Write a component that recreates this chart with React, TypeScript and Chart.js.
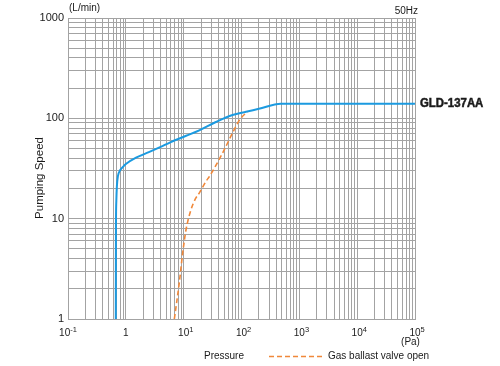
import React, { useEffect, useRef } from 'react';
import { Chart, registerables } from 'chart.js';

Chart.register(...registerables);

// ---- data ----
const blueX = [0.67, 0.675, 0.685, 0.7, 0.73, 0.8, 0.9, 1.0, 1.5, 2.5, 4, 6, 11, 18.6, 36, 70, 120, 200, 480, 100000];
const blueY = [1, 8, 15, 21, 26.5, 30.5, 33, 35, 40.5, 46, 52, 58, 67, 76, 92, 108, 116.2, 124.4, 140, 140];
const orangeX = [6.9, 8.4, 9.6, 11, 13.4, 16, 18.6, 24.3, 28, 47, 70, 92, 128];
const orangeY = [1, 2.3, 4.5, 7.8, 12.3, 15.8, 18, 23.5, 26.5, 45, 71.5, 96, 117.4];

const xTickValues = [0.1, 1, 10, 100, 1000, 10000, 100000];
const xTickBase = ['10', '1', '10', '10', '10', '10', '10'];
const xTickExp = ['-1', '', '1', '2', '3', '4', '5'];
const yTickValues = [1, 10, 100, 1000];
const yTickLabels = ['1', '10', '100', '1000'];

const seriesName = 'GLD-137AA';
const legendLabel = 'Gas ballast valve open';
const yUnit = '(L/min)';
const xUnit = '(Pa)';
const freqLabel = '50Hz';
const yTitle = 'Pumping Speed';
const xTitle = 'Pressure';

const BLUE = '#1b9ae0';
const ORANGE = '#f0883a';
const GRID = '#a3a3a3';
const TEXT = '#1a1a1a';
const FONT = '"Liberation Sans", Arial, Helvetica, sans-serif';

function gridValues(min: number, max: number): number[] {
  const out: number[] = [];
  for (let d = min; d < max * 0.999; d *= 10) {
    for (let k = 1; k < 10; k++) out.push(+(d * k).toPrecision(6));
  }
  out.push(max);
  return out;
}

const textPlugin = {
  id: 'chartTexts',
  afterDraw(chart: any) {
    const ctx = chart.ctx as CanvasRenderingContext2D;
    const xs = chart.scales.x;
    const ys = chart.scales.y;
    const ca = chart.chartArea;
    ctx.save();
    ctx.fillStyle = TEXT;

    // y tick labels
    ctx.font = `11px ${FONT}`;
    ctx.textAlign = 'right';
    ctx.textBaseline = 'middle';
    yTickValues.forEach((v, i) => {
      ctx.fillText(yTickLabels[i], ca.left - 4, ys.getPixelForValue(v));
    });

    // x tick labels with superscripts
    ctx.textAlign = 'left';
    ctx.textBaseline = 'alphabetic';
    xTickValues.forEach((v, i) => {
      const px = xs.getPixelForValue(v);
      ctx.font = `10px ${FONT}`;
      const wb = ctx.measureText(xTickBase[i]).width;
      ctx.font = `7.5px ${FONT}`;
      const we = xTickExp[i] ? ctx.measureText(xTickExp[i]).width : 0;
      const start = xTickExp[i].startsWith('-') ? px - (wb + we) / 2 : px - wb / 2;
      ctx.font = `10px ${FONT}`;
      ctx.fillText(xTickBase[i], start, 336);
      if (xTickExp[i]) {
        ctx.font = `7.5px ${FONT}`;
        ctx.fillText(xTickExp[i], start + wb, 331.5);
      }
    });

    // units and titles
    ctx.font = `10px ${FONT}`;
    ctx.textBaseline = 'middle';
    ctx.textAlign = 'left';
    ctx.fillText(yUnit, 69, 8);
    ctx.textAlign = 'right';
    ctx.fillText(freqLabel, 418, 11);
    ctx.textAlign = 'center';
    ctx.fillText(xUnit, 410.5, 342.5);
    ctx.fillText(xTitle, 224, 356);

    // y axis title
    ctx.save();
    ctx.translate(43, 178);
    ctx.rotate(-Math.PI / 2);
    ctx.font = `11.5px ${FONT}`;
    ctx.textAlign = 'center';
    ctx.textBaseline = 'alphabetic';
    ctx.fillText(yTitle, 0, 0);
    ctx.restore();

    // series name at end of blue line
    const yEnd = ys.getPixelForValue(blueY[blueY.length - 1]);
    ctx.font = `bold 12px ${FONT}`;
    ctx.textAlign = 'left';
    ctx.textBaseline = 'middle';
    ctx.lineWidth = 0.5;
    ctx.strokeStyle = TEXT;
    ctx.save();
    ctx.translate(420, yEnd + 0.5);
    ctx.scale(0.95, 1);
    ctx.strokeText(seriesName, 0, 0);
    ctx.fillText(seriesName, 0, 0);
    ctx.restore();

    // legend for dashed series
    ctx.strokeStyle = ORANGE;
    ctx.lineWidth = 1.5;
    ctx.setLineDash([5, 3]);
    ctx.beginPath();
    ctx.moveTo(269, 356.5);
    ctx.lineTo(322, 356.5);
    ctx.stroke();
    ctx.setLineDash([]);
    ctx.fillStyle = TEXT;
    ctx.font = `10px ${FONT}`;
    ctx.textAlign = 'left';
    ctx.textBaseline = 'middle';
    ctx.fillText(legendLabel, 328, 356);
    ctx.restore();
  },
};

export default function App() {
  const canvasRef = useRef<HTMLCanvasElement | null>(null);

  useEffect(() => {
    document.body.style.margin = '0';
    const canvas = canvasRef.current;
    if (!canvas) return;
    const chart = new Chart(canvas, {
      type: 'scatter',
      data: {
        datasets: [
          {
            label: seriesName,
            data: blueX.map((x, i) => ({ x, y: blueY[i] })),
            showLine: true,
            borderColor: BLUE,
            backgroundColor: BLUE,
            borderWidth: 2,
            pointRadius: 0,
            cubicInterpolationMode: 'monotone',
            fill: false,
          },
          {
            label: legendLabel,
            data: orangeX.map((x, i) => ({ x, y: orangeY[i] })),
            showLine: true,
            borderColor: ORANGE,
            backgroundColor: ORANGE,
            borderWidth: 1.6,
            borderDash: [5, 3],
            pointRadius: 0,
            cubicInterpolationMode: 'monotone',
            fill: false,
          },
        ],
      },
      options: {
        responsive: false,
        animation: false,
        devicePixelRatio: 1,
        layout: { padding: { left: 68, right: 85, top: 18, bottom: 47 } },
        plugins: { legend: { display: false }, tooltip: { enabled: false }, title: { display: false } },
        scales: {
          x: {
            type: 'logarithmic',
            min: 0.1,
            max: 100000,
            ticks: { display: false },
            grid: { color: GRID, lineWidth: 1, drawTicks: false },
            border: { display: true, color: GRID },
            afterBuildTicks: (s: any) => {
              s.ticks = gridValues(0.1, 100000).map((v) => ({ value: v }));
            },
          },
          y: {
            type: 'logarithmic',
            min: 1,
            max: 1000,
            ticks: { display: false },
            grid: { color: GRID, lineWidth: 1, drawTicks: false },
            border: { display: true, color: GRID },
            afterBuildTicks: (s: any) => {
              s.ticks = gridValues(1, 1000).map((v) => ({ value: v }));
            },
          },
        },
      } as any,
      plugins: [textPlugin],
    });
    return () => chart.destroy();
  }, []);

  return (
    <div style={{ width: 500, height: 366, background: '#fff' }}>
      <canvas ref={canvasRef} width={500} height={366} style={{ display: 'block' }} />
    </div>
  );
}
